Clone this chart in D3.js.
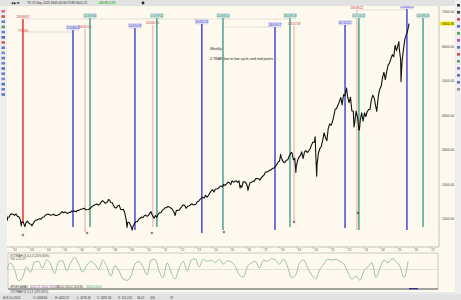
<!DOCTYPE html>
<html>
<head>
<meta charset="utf-8">
<script src="https://cdn.jsdelivr.net/npm/d3@7"></script>
<style>
  body { margin: 0; background: #e9e9e9; overflow: hidden; }
  svg { display: block; }
</style>
</head>
<body>
<div id="chart"></div>
<script>
// Weekly index chart with the 4 year low to low cycle lines

// monthly closes, Aug 2001 .. Sep 2025
const priceStart = "2001-08";
const monthlyClose = [
  1133.6, 1040.9, 1059.8, 1139.5, 1148.1,
  1130.2, 1106.7, 1147.4, 1076.9, 1067.1, 989.8, 911.6, 916.1, 815.3, 885.8, 936.3, 879.8,
  855.7, 841.2, 848.2, 916.9, 963.6, 974.5, 990.3, 1008.0, 996.0, 1050.7, 1058.2, 1111.9,
  1131.1, 1144.9, 1126.2, 1107.3, 1120.7, 1140.8, 1101.7, 1104.2, 1114.6, 1130.2, 1173.8, 1211.9,
  1181.3, 1203.6, 1180.6, 1156.9, 1191.5, 1191.3, 1234.2, 1220.3, 1228.8, 1207.0, 1249.5, 1248.3,
  1280.1, 1280.7, 1294.9, 1310.6, 1270.1, 1270.2, 1276.7, 1303.8, 1335.9, 1377.9, 1400.6, 1418.3,
  1438.2, 1406.8, 1420.9, 1482.4, 1530.6, 1503.4, 1455.3, 1474.0, 1526.8, 1549.4, 1481.1, 1468.4,
  1378.6, 1330.6, 1322.7, 1385.6, 1400.4, 1280.0, 1267.4, 1282.8, 1166.4, 968.8, 896.2, 903.3,
  825.9, 735.1, 797.9, 872.8, 919.1, 919.3, 987.5, 1020.6, 1057.1, 1036.2, 1095.6, 1115.1,
  1073.9, 1104.5, 1169.4, 1186.7, 1089.4, 1030.7, 1101.6, 1049.3, 1141.2, 1183.3, 1180.6, 1257.6,
  1286.1, 1327.2, 1325.8, 1363.6, 1345.2, 1320.6, 1292.3, 1218.9, 1131.4, 1253.3, 1246.9, 1257.6,
  1312.4, 1365.7, 1408.5, 1397.9, 1310.3, 1362.2, 1379.3, 1406.6, 1440.7, 1412.2, 1416.2, 1426.2,
  1498.1, 1514.7, 1569.2, 1597.6, 1630.7, 1606.3, 1685.7, 1633.0, 1681.6, 1756.5, 1805.8, 1848.4,
  1782.6, 1859.5, 1872.3, 1884.0, 1923.6, 1960.2, 1930.7, 2003.4, 1972.3, 2018.1, 2067.6, 2058.9,
  1995.0, 2104.5, 2067.9, 2085.5, 2107.4, 2063.1, 2103.8, 1972.2, 1920.0, 2079.4, 2080.4, 2043.9,
  1940.2, 1932.2, 2059.7, 2065.3, 2097.0, 2098.9, 2173.6, 2171.0, 2168.3, 2126.2, 2199.0, 2238.8,
  2278.9, 2363.6, 2362.7, 2384.2, 2411.8, 2423.4, 2470.3, 2471.7, 2519.4, 2575.3, 2647.6, 2673.6,
  2823.8, 2713.8, 2640.9, 2648.1, 2705.3, 2718.4, 2816.3, 2901.5, 2914.0, 2711.7, 2760.2, 2506.9,
  2704.1, 2784.5, 2834.4, 2945.8, 2752.1, 2941.8, 2980.4, 2926.5, 2976.7, 3037.6, 3141.0, 3230.8,
  3225.5, 2954.2, 2584.6, 2912.4, 3044.3, 3100.3, 3271.1, 3500.3, 3363.0, 3270.0, 3621.6, 3756.1,
  3714.2, 3811.2, 3972.9, 4181.2, 4204.1, 4297.5, 4395.3, 4522.7, 4307.5, 4605.4, 4567.0, 4766.2,
  4515.6, 4373.9, 4530.4, 4131.9, 4132.2, 3785.4, 4130.3, 3955.0, 3585.6, 3872.0, 4080.1, 3839.5,
  4076.6, 3970.2, 4109.3, 4169.5, 4179.8, 4450.4, 4589.0, 4507.7, 4288.1, 4193.8, 4567.8, 4769.8,
  4845.7, 5096.3, 5254.4, 5035.7, 5277.5, 5460.5, 5522.3, 5648.4, 5762.5, 5705.5, 6032.4, 5881.6,
  6040.5, 5954.5, 5611.9, 5569.1, 5911.7, 6205.0, 6339.4, 6460.3, 6664.4
];

// weekly extremes that the monthly closes miss
const spikeDates = [
  "2001-09-21", "2002-07-23", "2002-10-09", "2003-03-11", "2007-10-09", "2008-11-20",
  "2009-03-09", "2010-04-23", "2010-07-02", "2011-04-29", "2011-10-03", "2015-08-24",
  "2016-02-11", "2018-01-26", "2018-09-20", "2018-12-24", "2020-02-19", "2020-03-23",
  "2022-01-03", "2022-06-16", "2022-10-12", "2023-10-27", "2025-02-19", "2025-04-08"
];
const spikeValues = [
  965.8, 797.7, 776.8, 800.7, 1565.2, 752.4,
  676.5, 1217.3, 1022.6, 1363.6, 1099.2, 1893.2,
  1829.1, 2872.9, 2930.8, 2351.1, 3386.2, 2237.4,
  4796.6, 3666.8, 3577.0, 4117.4, 6144.2, 4982.8
];

// cycle lines: date, colour kind, price where the line stops
const lineDates = [
  "2002-08-28", "2005-08-25", "2006-05-16", "2006-09-01", "2009-05-10", "2010-06-05",
  "2010-09-01", "2013-05-10", "2014-08-15", "2017-09-24", "2018-08-18", "2018-11-14",
  "2021-12-02", "2022-08-18", "2022-10-01", "2025-08-15", "2026-08-01"
];
const lineKinds = [
  "red", "blue", "pink", "teal", "blue", "pink",
  "teal", "blue", "teal", "blue", "teal", "pink",
  "blue", "pink", "teal", "blue", "teal"
];
const lineLows = [
  884, 768, 623, 768, 681, 768,
  768, 594, 681, 681, 768, 913,
  739, 681, 681, 681, 768
];
// label height for each line (px from top), layout only
const labelTop = [17, 28, 27, 16, 26, 23, 16, 22, 16, 25, 16, 24, 23, 8, 16, 7, 16];

// little + markers under the lows
const markerDates = ["2002-08-28", "2006-06-28", "2010-05-15", "2014-09-05", "2018-11-14", "2022-09-10"];
const markerValues = [536, 594, 594, 623, 913, 1174];

const yTicks = [1000, 2000, 3000, 4000, 5000, 6000, 7000];
const lastPrice = 6664.36;

// stochastic (0..100)
const oscStart = "2001-09-01";
const oscEnd = "2025-09-10";
const oscValues = [
  46, 75, 50, 8, 20, 60, 40, 78, 80, 55, 85, 70, 35, 80, 82, 45, 75, 95, 70, 40,
  65, 80, 70, 50, 85, 60, 25, 65, 45, 15, 10, 25, 70, 80, 60, 30, 85, 88, 45, 20,
  75, 40, 15, 55, 80, 45, 85, 90, 60, 88, 80, 85, 75, 88, 70, 82, 78, 60, 30, 22,
  60, 75, 80, 55, 85, 80, 90, 85, 70, 88, 60, 20, 30, 75, 85, 55, 30, 15, 50, 70,
  88, 85, 88, 80, 70, 40, 15, 25, 10, 45, 60, 75, 20, 55, 85, 75, 90, 80, 60, 20, 80
];

const width = 461;
const height = 300;

const colours = {
  red: "#e02424",
  blue: "#3b3bd0",
  teal: "#3f9c8a",
  pink: "#e9a9a0",
};

const parse = d3.utcParse("%Y-%m-%d");
const fmtLabel = d3.utcFormat("%d/%m/%y");

// build the price series
let priceData = monthlyClose.map(function (v, i) {
  let d = d3.utcMonth.offset(d3.utcParse("%Y-%m")(priceStart), i + 1);
  return { date: d3.utcDay.offset(d, -1), value: v };
});
spikeDates.forEach(function (s, i) {
  priceData.push({ date: parse(s), value: spikeValues[i] });
});
priceData.sort((a, b) => a.date - b.date);

let svg = d3
  .select("#chart")
  .append("svg")
  .attr("width", width)
  .attr("height", height)
  .style("font-family", "Liberation Sans, Arial, sans-serif");

// frame and backgrounds
svg.append("rect").attr("width", width).attr("height", height).attr("fill", "#e9e9e9");
svg.append("rect").attr("x", 0).attr("y", 0).attr("width", width).attr("height", 6).attr("fill", "#e2e2e2");
svg.append("rect").attr("x", 7).attr("y", 6).attr("width", 448).attr("height", 286).attr("fill", "#fdf9ee");

const plot = { left: 7, right: 439, top: 6, bottom: 247 };

let x = d3
  .scaleUtc()
  .domain([new Date(Date.UTC(2002, 0, 1)), new Date(Date.UTC(2027, 0, 1))])
  .range([12, 430]);

let y = d3.scaleLinear().domain([1000, 7000]).range([219, 12]);

svg
  .append("clipPath")
  .attr("id", "plot-clip")
  .append("rect")
  .attr("x", plot.left)
  .attr("y", plot.top)
  .attr("width", plot.right - plot.left)
  .attr("height", plot.bottom - plot.top);

let main = svg.append("g").attr("clip-path", "url(#plot-clip)");

// faint measuring lines between labels
const connectors = [
  [0, 10, 19],
  [0, 1, 32],
  [8, 9, 27],
  [13, 15, 10],
];
main
  .selectAll(".conn")
  .data(connectors)
  .enter()
  .append("line")
  .attr("x1", (d) => x(parse(lineDates[d[0]])))
  .attr("x2", (d) => x(parse(lineDates[d[1]])))
  .attr("y1", (d) => d[2])
  .attr("y2", (d) => d[2])
  .attr("stroke", "#dccfc6")
  .attr("stroke-width", 0.6);

// the cycle lines
let cycle = main
  .selectAll(".cycle")
  .data(lineDates)
  .enter()
  .append("g")
  .attr("class", "cycle");

cycle
  .append("line")
  .attr("x1", (d) => x(parse(d)))
  .attr("x2", (d) => x(parse(d)))
  .attr("y1", (d, i) => labelTop[i] + 2)
  .attr("y2", (d, i) => y(lineLows[i]))
  .attr("stroke", (d, i) => colours[lineKinds[i]])
  .attr("stroke-width", (d, i) => (lineKinds[i] === "pink" ? 1 : 1.4));

// labels on top of each line
cycle.each(function (d, i) {
  let g = d3.select(this);
  let kind = lineKinds[i];
  let cx = x(parse(d));
  let ty = labelTop[i];
  if (kind === "teal" || kind === "blue") {
    g.append("rect")
      .attr("x", cx - 6)
      .attr("y", ty - 2.5)
      .attr("width", 12)
      .attr("height", 4.5)
      .attr("fill", kind === "teal" ? "#d3ebe5" : "#e8e8fb")
      .attr("stroke", kind === "teal" ? "#8fc4b8" : "#a6a6e8")
      .attr("stroke-width", 0.3);
  }
  g.append("text")
    .attr("x", cx)
    .attr("y", ty + 1)
    .attr("text-anchor", "middle")
    .style("font-size", "3.4px")
    .style("fill", kind === "teal" ? "#2f7f70" : kind === "blue" ? "#3030c0" : "#d04040")
    .text(fmtLabel(parse(d)));
});

// second red label (the low price)
main
  .append("text")
  .attr("x", x(parse(lineDates[0])))
  .attr("y", 32)
  .attr("text-anchor", "middle")
  .style("font-size", "3.4px")
  .style("fill", "#d04040")
  .text(spikeValues[2].toFixed(2));

// price line
let priceLine = d3
  .line()
  .x((d) => x(d.date))
  .y((d) => y(d.value));

main
  .append("path")
  .datum(priceData)
  .attr("d", priceLine)
  .attr("fill", "none")
  .attr("stroke", "#111")
  .attr("stroke-width", 1.1)
  .attr("stroke-linejoin", "round");

// + markers, thin crosses
let marks = main
  .selectAll(".marker")
  .data(markerDates)
  .enter()
  .append("g")
  .attr("transform", (d, i) => `translate(${x(parse(d))},${y(markerValues[i])})`);
marks.append("line").attr("x1", -1.3).attr("x2", 1.3).attr("stroke", "#222").attr("stroke-width", 0.6);
marks.append("line").attr("y1", -1.3).attr("y2", 1.3).attr("stroke", "#222").attr("stroke-width", 0.6);

// note text
svg
  .append("text")
  .attr("x", 210)
  .attr("y", 50)
  .style("font-size", "3.6px")
  .style("fill", "#222")
  .text("Weekly");
svg
  .append("text")
  .attr("x", 210)
  .attr("y", 60)
  .style("font-size", "3.6px")
  .style("fill", "#222")
  .text("4 YEAR low to low cycle and mid points");

// right axis
svg
  .append("line")
  .attr("x1", plot.right)
  .attr("x2", plot.right)
  .attr("y1", plot.top)
  .attr("y2", plot.bottom)
  .attr("stroke", "#9a9a9a")
  .attr("stroke-width", 0.6);

svg
  .selectAll(".ytick")
  .data(yTicks)
  .enter()
  .append("text")
  .attr("x", 442)
  .attr("y", (d) => y(d) + 1.2)
  .style("font-size", "3.4px")
  .style("fill", "#444")
  .text((d) => d.toFixed(2));

svg
  .append("rect")
  .attr("x", 440)
  .attr("y", y(lastPrice) - 2)
  .attr("width", 14)
  .attr("height", 4)
  .attr("fill", "#f5f000");
svg
  .append("text")
  .attr("x", 442)
  .attr("y", y(lastPrice) + 1.2)
  .style("font-size", "3.4px")
  .style("fill", "#333")
  .text(lastPrice.toFixed(2));

// bottom time axis
let xTicks = d3.utcYear.range(new Date(Date.UTC(2002, 0, 1)), new Date(Date.UTC(2027, 0, 2)));
svg
  .append("line")
  .attr("x1", plot.left)
  .attr("x2", plot.right)
  .attr("y1", plot.bottom)
  .attr("y2", plot.bottom)
  .attr("stroke", "#9a9a9a")
  .attr("stroke-width", 0.6);
svg
  .selectAll(".xtick")
  .data(xTicks)
  .enter()
  .append("line")
  .attr("x1", (d) => x(d))
  .attr("x2", (d) => x(d))
  .attr("y1", plot.bottom)
  .attr("y2", plot.bottom + 1.5)
  .attr("stroke", "#777")
  .attr("stroke-width", 0.4);
svg
  .selectAll(".xlab")
  .data(xTicks)
  .enter()
  .append("text")
  .attr("x", (d) => x(d) + 1)
  .attr("y", plot.bottom + 4)
  .style("font-size", "3px")
  .style("fill", "#555")
  .text((d) => d3.utcFormat("'%y")(d));

// lower panel: stochastic
const panel = { left: 8, right: 438, top: 253, bottom: 289 };
svg
  .append("rect")
  .attr("x", panel.left)
  .attr("y", panel.top)
  .attr("width", panel.right - panel.left)
  .attr("height", panel.bottom - panel.top)
  .attr("fill", "#fdf9ee")
  .attr("stroke", "#a8a8a8")
  .attr("stroke-width", 0.6);
svg
  .append("line")
  .attr("x1", panel.left)
  .attr("x2", panel.right)
  .attr("y1", panel.bottom)
  .attr("y2", panel.bottom)
  .attr("stroke", "#8c8c8c")
  .attr("stroke-width", 1.6);

let yOsc = d3.scaleLinear().domain([0, 100]).range([283, 256]);
let xOsc = d3
  .scaleLinear()
  .domain([0, oscValues.length - 1])
  .range([x(parse(oscStart)), x(parse(oscEnd))]);

svg
  .append("line")
  .attr("x1", panel.left)
  .attr("x2", panel.right)
  .attr("y1", yOsc(50))
  .attr("y2", yOsc(50))
  .attr("stroke", "#c8c8c0")
  .attr("stroke-width", 0.5);

svg
  .append("path")
  .datum(oscValues)
  .attr(
    "d",
    d3
      .line()
      .x((d, i) => xOsc(i))
      .y((d) => yOsc(d))
      .curve(d3.curveMonotoneX)
  )
  .attr("fill", "none")
  .attr("stroke", "#86b48e")
  .attr("stroke-width", 0.8);

svg.append("text").attr("x", 10).attr("y", 256.5).style("font-size", "3px").style("fill", "#444")
  .text("STOMAH (3,4,4,4 (20%,80%)");
svg.append("text").attr("x", 10).attr("y", 260).style("font-size", "3px").style("fill", "#444")
  .text("%D = 51.17");

let legendBits = [
  ["SPDEX AMAV", "#333", 10],
  ["2D5CT2 2D5t2 2D5tSD", "#8a3aa0", 30],
  ["2D5t2 2D5t2 2D5tSD", "#333", 57],
  ["2D5t2 2D5t2", "#3f9c8a", 86],
];
svg.selectAll(".leg").data(legendBits).enter().append("text")
  .attr("x", (d) => d[2]).attr("y", 288).style("font-size", "2.8px").style("fill", (d) => d[1])
  .text((d) => d[0]);

svg.append("rect").attr("x", 409).attr("y", 288).attr("width", 9).attr("height", 1.3).attr("fill", "#303080");

// panel legend box + status bar
svg.append("rect").attr("x", 10).attr("y", 290).attr("width", 38).attr("height", 4)
  .attr("fill", "#f4f4f4").attr("stroke", "#999").attr("stroke-width", 0.3);
svg.append("text").attr("x", 11).attr("y", 293).style("font-size", "2.8px").style("fill", "#333")
  .text("STOMAH (3,4,4,4 (20%,80%)");
svg.append("rect").attr("x", 0).attr("y", 294.5).attr("width", width).attr("height", 5.5).attr("fill", "#e1e1e1");

let status = [
  ["Hi 8,Oct 2021", 3], ["O: 4348.84", 33], ["H: 4420.57", 55], ["L: 4278.44", 77],
  ["C: 4391.34", 97], ["V: 151,223", 118], ["34.02", 137], ["206", 150], ["37", 170],
];
svg.selectAll(".st").data(status).enter().append("text")
  .attr("x", (d) => d[1]).attr("y", 298.6).style("font-size", "2.9px").style("fill", "#333")
  .text((d) => d[0]);

// top info bar
svg.append("text").attr("x", 11).attr("y", 4.3).style("font-size", "3.4px").style("fill", "#222")
  .text("◀ ▶ ■");
svg.append("text").attr("x", 27).attr("y", 4.3).style("font-size", "3.2px").style("fill", "#333")
  .text("TK   19 Sep 2025   6645.60   6673.88   6601.25");
svg.append("rect").attr("x", 97).attr("y", 1).attr("width", 20).attr("height", 4).attr("fill", "#cfe9c9");
svg.append("text").attr("x", 98).attr("y", 4.3).style("font-size", "3.2px").style("fill", "#2a7a2a")
  .text("+38.98  0.59");
svg.append("circle").attr("cx", 143).attr("cy", 3).attr("r", 1.4).attr("fill", "#222");

// side toolbars
svg.append("rect").attr("x", 0).attr("y", 6).attr("width", 7).attr("height", 286).attr("fill", "#eeeeee");
svg.append("rect").attr("x", 455).attr("y", 0).attr("width", 6).attr("height", 294).attr("fill", "#eeeeee");

const leftIcons = ["#d05a6a", "#c83030", "#4a68c8", "#3a8a6a", "#5070d0", "#3050b0", "#d04040",
  "#3a6ac0", "#6080d0", "#4a60c0", "#5070c8", "#3858b8", "#4a68c8", "#6078d0", "#3a5ac0", "#5070d0", "#4060c0"];
svg.selectAll(".licon").data(leftIcons).enter().append("rect")
  .attr("x", 1.5).attr("y", (d, i) => 10 + i * 5.2).attr("width", 3.5).attr("height", 2.6)
  .attr("fill", (d) => d).attr("opacity", 0.85);

const rightIcons = ["#222", "#222", "#c83030", "#3a5ac0", "#3a9a3a", "#8a3aa0", "#3a5ac0", "#c83030",
  "#3a9a3a", "#6a5ad0", "#3a5ac0", "#3a5ac0", "#888"];
svg.selectAll(".ricon").data(rightIcons).enter().append("rect")
  .attr("x", 457).attr("y", (d, i) => 4 + i * 7).attr("width", 3).attr("height", 2.6)
  .attr("fill", (d) => d).attr("opacity", 0.85);
</script>
</body>
</html>
